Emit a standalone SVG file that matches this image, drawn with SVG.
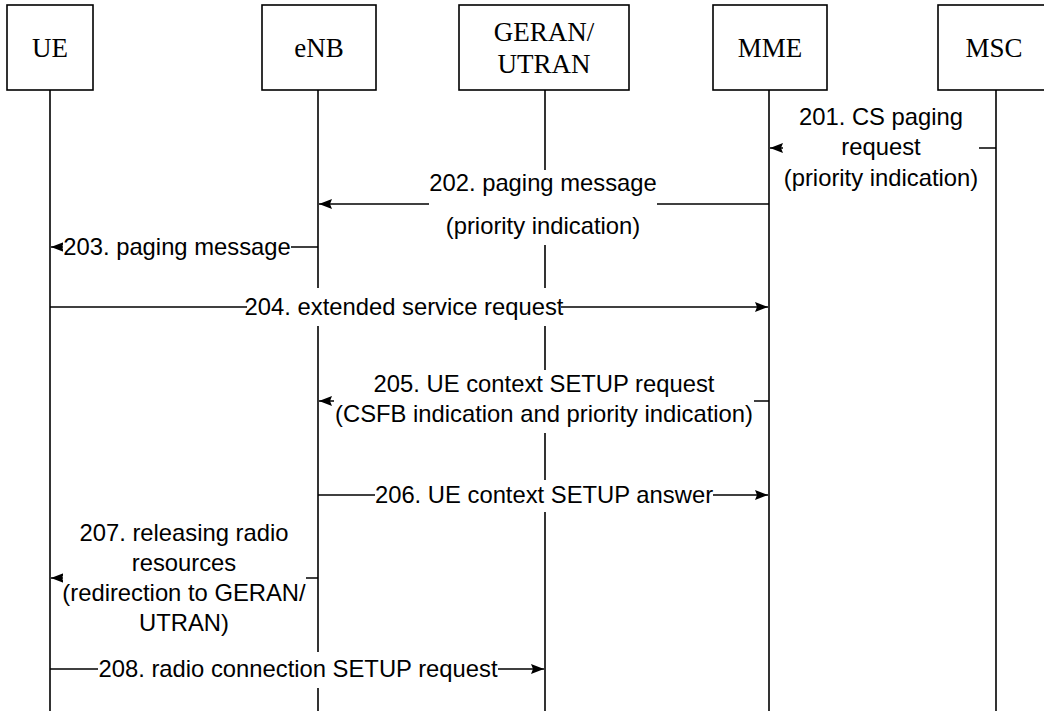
<svg xmlns="http://www.w3.org/2000/svg" width="1044" height="711" viewBox="0 0 1044 711">
  <style>
    .box { fill: #fff; stroke: #000; stroke-width: 1.6; }
    .life { stroke: #000; stroke-width: 1.6; fill: none; }
    .msg { stroke: #000; stroke-width: 1.6; fill: none; marker-end: url(#arrow); }
    .bg { fill: #fff; }
    .name { font-family: "Liberation Serif", "Times New Roman", serif; font-size: 27px; text-anchor: middle; fill: #000; }
    .lbl { font-family: "Liberation Sans", Arial, sans-serif; font-size: 23.8px; text-anchor: middle; fill: #000; }
  </style>
  <defs>
    <marker id="arrow" markerUnits="userSpaceOnUse" markerWidth="14" markerHeight="12" refX="13" refY="5" orient="auto">
      <path d="M0,0 L13,5 L0,10 L2,5 z" fill="#000"/>
    </marker>
  </defs>
  <rect width="1044" height="711" fill="#fff"/>

  <!-- participants: header box + lifeline -->
  <g id="node-ue">
    <rect class="box" x="7" y="5" width="86" height="85"/>
    <text class="name" x="50" y="57">UE</text>
    <line class="life" x1="50" y1="90" x2="50" y2="711"/>
  </g>
  <g id="node-enb">
    <rect class="box" x="262" y="5" width="114" height="85"/>
    <text class="name" x="319" y="57">eNB</text>
    <line class="life" x1="318" y1="90" x2="318" y2="711"/>
  </g>
  <g id="node-geran">
    <rect class="box" x="459" y="5" width="170" height="85"/>
    <text class="name" x="544" y="41">GERAN/</text>
    <text class="name" x="544" y="73">UTRAN</text>
    <line class="life" x1="545" y1="90" x2="545" y2="711"/>
  </g>
  <g id="node-mme">
    <rect class="box" x="713" y="5" width="114" height="85"/>
    <text class="name" x="770" y="57">MME</text>
    <line class="life" x1="769" y1="90" x2="769" y2="711"/>
  </g>
  <g id="node-msc">
    <rect class="box" x="938" y="5" width="116" height="85"/>
    <text class="name" x="994" y="57">MSC</text>
    <line class="life" x1="996" y1="90" x2="996" y2="711"/>
  </g>

  <!-- messages: line first, then a white label block that breaks the lines behind it -->
  <g id="connectors">
    <g id="msg-201">
      <line class="msg" x1="996" y1="148" x2="770" y2="148"/>
      <rect class="bg" x="783" y="104" width="196" height="92"/>
      <text class="lbl" x="881" y="125">201. CS paging</text>
      <text class="lbl" x="881" y="155">request</text>
      <text class="lbl" x="881" y="186">(priority indication)</text>
    </g>
    <g id="msg-202">
      <line class="msg" x1="769" y1="204" x2="319" y2="204"/>
      <rect class="bg" x="429" y="170" width="228" height="75"/>
      <text class="lbl" x="543" y="191">202. paging message</text>
      <text class="lbl" x="543" y="234">(priority indication)</text>
    </g>
    <g id="msg-203">
      <line class="msg" x1="318" y1="247" x2="51" y2="247"/>
      <rect class="bg" x="63" y="232" width="228" height="30"/>
      <text class="lbl" x="177" y="255">203. paging message</text>
    </g>
    <g id="msg-204">
      <line class="msg" x1="50" y1="307" x2="768" y2="307"/>
      <rect class="bg" x="247" y="288" width="314" height="38"/>
      <text class="lbl" x="404" y="315">204. extended service request</text>
    </g>
    <g id="msg-205">
      <line class="msg" x1="769" y1="401" x2="319" y2="401"/>
      <rect class="bg" x="334" y="370" width="420" height="63"/>
      <text class="lbl" x="544" y="392">205. UE context SETUP request</text>
      <text class="lbl" x="544" y="422">(CSFB indication and priority indication)</text>
    </g>
    <g id="msg-206">
      <line class="msg" x1="318" y1="495" x2="768" y2="495"/>
      <rect class="bg" x="375" y="480" width="338" height="32"/>
      <text class="lbl" x="544" y="503">206. UE context SETUP answer</text>
    </g>
    <g id="msg-207">
      <line class="msg" x1="318" y1="578" x2="51" y2="578"/>
      <rect class="bg" x="63" y="518" width="243" height="122"/>
      <text class="lbl" x="184" y="541">207. releasing radio</text>
      <text class="lbl" x="184" y="571">resources</text>
      <text class="lbl" x="184" y="601">(redirection to GERAN/</text>
      <text class="lbl" x="184" y="631">UTRAN)</text>
    </g>
    <g id="msg-208">
      <line class="msg" x1="50" y1="669" x2="544" y2="669"/>
      <rect class="bg" x="98" y="652" width="400" height="36"/>
      <text class="lbl" x="298" y="677">208. radio connection SETUP request</text>
    </g>
  </g>
</svg>
